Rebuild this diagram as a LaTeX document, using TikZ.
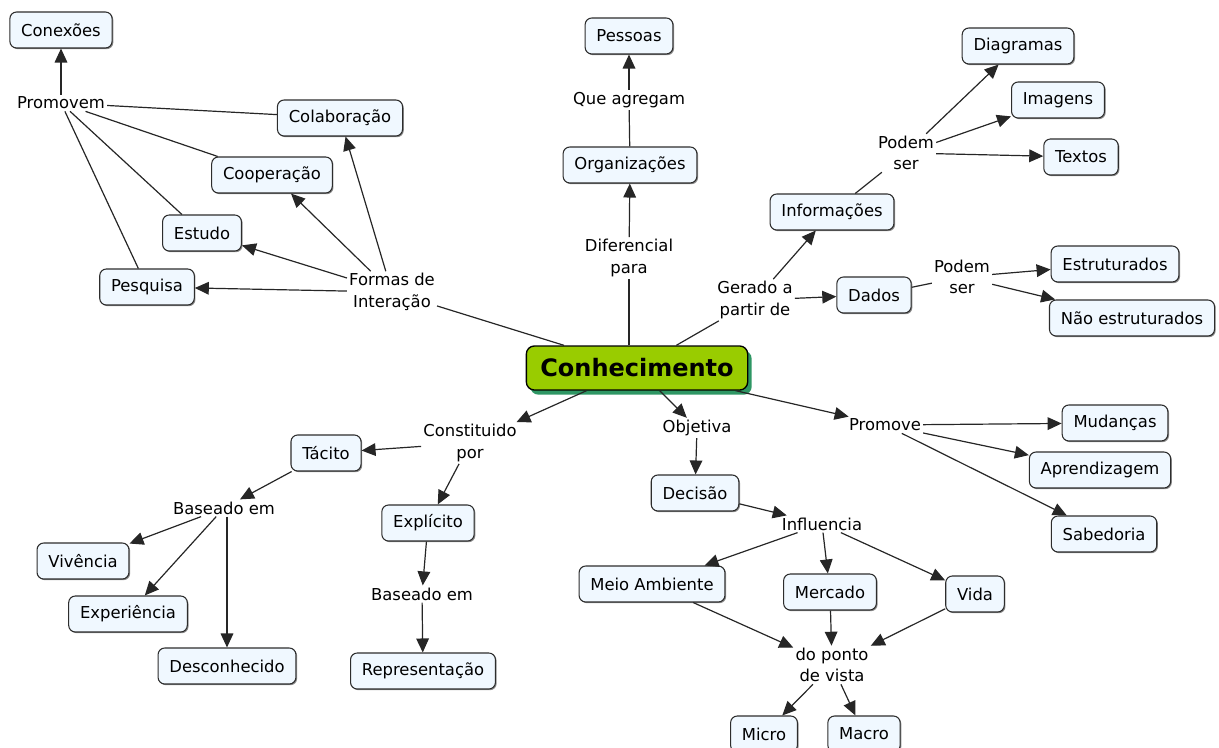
\documentclass[tikz,border=0pt]{standalone}
\usepackage{fontspec}
\setmainfont{DejaVu Sans}
\usetikzlibrary{arrows.meta,shadows}
\definecolor{CmapFill}{RGB}{240,248,255}
\definecolor{CmapLine}{RGB}{45,45,45}
\definecolor{CoreGreen}{RGB}{153,204,0}
\definecolor{CoreShadow}{RGB}{46,150,100}

\begin{document}
\begin{tikzpicture}[x=0.75pt, y=-0.75pt,
    concept/.style={draw=CmapLine, fill=CmapFill, rounded corners=5pt, line width=0.8pt, inner xsep=8.5pt, minimum height=27pt, font=\fontsize{12.3}{15}\selectfont, drop shadow={shadow xshift=0.9pt, shadow yshift=-0.9pt, fill=black, opacity=0.45}},
    core/.style={draw=black, fill=CoreGreen, rounded corners=6pt, line width=1pt, minimum width=166pt, minimum height=33pt, font=\fontsize{18}{20}\selectfont\bfseries, drop shadow={shadow xshift=3pt, shadow yshift=-3.5pt, fill=CoreShadow, opacity=1}},
    phrase/.style={align=center, inner sep=1.5pt, font=\fontsize{12.3}{16}\selectfont},
    ln/.style={line width=0.9pt, black!85},
    arr/.style={ln, -{Triangle[length=10.5pt, width=9.5pt]}}
  ]
    \useasboundingbox (0,0) rectangle (1219,748);

    % Centre
    \node[core] (conh) at (637,368) {Conhecimento};

    % Formas de interacao (upper left)
    \node[phrase] (formas) at (392,292) {Formas de\\Interação};
    \node[concept] (colab) at (340,118) {Colaboração};
    \node[concept] (coop) at (272,175) {Cooperação};
    \node[concept] (estudo) at (202,233) {Estudo};
    \node[concept] (pesq) at (147,287) {Pesquisa};
    \node[phrase] (promovem) at (61,103) {Promovem};
    \node[concept] (conex) at (61,30) {Conexões};
    \draw[ln] (conh) -- (formas);
    \foreach \t in {pesq,estudo,coop,colab}
      \draw[arr] (formas) -- (\t);
    \foreach \t in {pesq,estudo,coop,colab}
      \draw[ln] (\t) -- (promovem);
    \draw[arr] (promovem) -- (conex);

    % Diferencial para (top)
    \node[phrase] (difer) at (629,258) {Diferencial\\para};
    \node[concept] (organ) at (630,165) {Organizações};
    \node[phrase] (agreg) at (629,100) {Que agregam};
    \node[concept] (pessoas) at (629,36) {Pessoas};
    \draw[ln] (conh.north -| difer) -- (difer);
    \draw[arr] (difer) -- (organ);
    \draw[ln] (organ) -- (agreg);
    \draw[arr] (agreg) -- (pessoas);

    % Gerado a partir de (upper right)
    \node[phrase] (gerado) at (755,300) {Gerado a\\partir de};
    \node[concept] (inform) at (832,212) {Informações};
    \node[concept] (dados) at (874,295) {Dados};
    \node[phrase] (podem1) at (906,153) {Podem\\ser};
    \node[concept] (diagr) at (1018,46) {Diagramas};
    \node[concept] (imag) at (1058,100) {Imagens};
    \node[concept] (textos) at (1081,157) {Textos};
    \node[phrase] (podem2) at (962,277) {Podem\\ser};
    \node[concept] (estrut) at (1115,264) {Estruturados};
    \node[concept] (naoest) at (1132,318) {Não estruturados};
    \draw[ln] (conh) -- (gerado);
    \draw[arr] (gerado) -- (inform);
    \draw[arr] (gerado) -- (dados);
    \draw[ln] (inform) -- (podem1);
    \foreach \t in {diagr,imag,textos}
      \draw[arr] (podem1) -- (\t);
    \draw[ln] (dados) -- (podem2);
    \foreach \t in {estrut,naoest}
      \draw[arr] (podem2) -- (\t);

    % Constituido por (lower left)
    \node[phrase] (const) at (470,443) {Constituido\\por};
    \node[concept] (tacito) at (326,453) {Tácito};
    \node[concept] (explic) at (428,523) {Explícito};
    \node[phrase] (base1) at (224,508) {Baseado em};
    \node[concept] (vivencia) at (83,561) {Vivência};
    \node[concept] (exper) at (128,614) {Experiência};
    \node[concept] (descon) at (227,666) {Desconhecido};
    \node[phrase] (base2) at (422,594) {Baseado em};
    \node[concept] (repres) at (423,671) {Representação};
    \draw[arr] (conh) -- (const);
    \draw[arr] (const) -- (tacito);
    \draw[arr] (const) -- (explic);
    \draw[arr] (tacito) -- (base1);
    \foreach \t in {vivencia,exper}
      \draw[arr] (base1) -- (\t);
    \draw[arr] (base1.south -| descon) -- (descon);
    \draw[arr] (explic) -- (base2);
    \draw[arr] (base2) -- (repres);

    % Objetiva (lower middle)
    \node[phrase] (objet) at (697,428) {Objetiva};
    \node[concept] (decisao) at (695,493) {Decisão};
    \node[phrase] (influ) at (822,524) {Influencia};
    \node[concept] (meio) at (652,584) {Meio Ambiente};
    \node[concept] (merc) at (830,592) {Mercado};
    \node[concept] (vida) at (975,594) {Vida};
    \node[phrase] (ponto) at (832,665) {do ponto\\de vista};
    \node[concept] (micro) at (764,734) {Micro};
    \node[concept] (macro) at (864,734) {Macro};
    \draw[arr] (conh) -- (objet);
    \draw[arr] (objet) -- (decisao);
    \draw[arr] (decisao) -- (influ);
    \foreach \t in {meio,merc,vida}
      \draw[arr] (influ) -- (\t);
    \foreach \s in {meio,merc,vida}
      \draw[arr] (\s) -- (ponto);
    \foreach \t in {micro,macro}
      \draw[arr] (ponto) -- (\t);

    % Promove (lower right)
    \node[phrase] (promove) at (885,425) {Promove};
    \node[concept] (mudan) at (1115,423) {Mudanças};
    \node[concept] (aprend) at (1100,470) {Aprendizagem};
    \node[concept] (sabed) at (1104,534) {Sabedoria};
    \draw[arr] (conh) -- (promove);
    \foreach \t in {mudan,aprend,sabed}
      \draw[arr] (promove) -- (\t);
\end{tikzpicture}
\end{document}
